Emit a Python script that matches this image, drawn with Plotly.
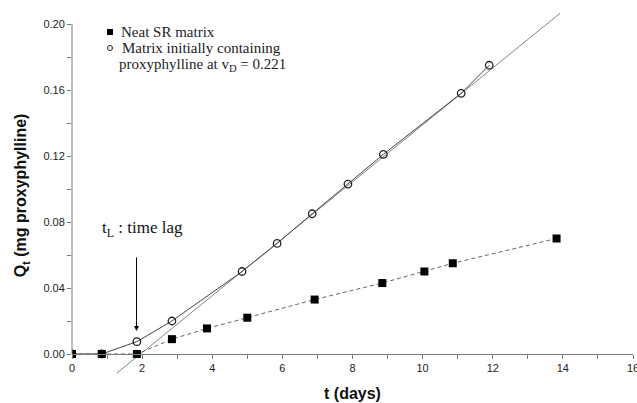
import plotly.graph_objects as go

# ---- data ----
t_neat = [0, 0.85, 1.85, 2.85, 3.85, 5.0, 6.92, 8.85, 10.05, 10.86, 13.82]
q_neat = [0, 0, 0, 0.009, 0.0155, 0.022, 0.033, 0.043, 0.050, 0.055, 0.070]

t_loaded = [0, 0.85, 1.85, 2.85, 4.85, 5.85, 6.85, 7.87, 8.88, 11.1, 11.9]
q_loaded = [0, 0, 0.0075, 0.020, 0.050, 0.067, 0.085, 0.103, 0.121, 0.158, 0.175]

# steady-state tangent (time lag construction)
t_lag = 1.95
flux = 0.01725
tangent_span = [1.28, 13.93]

x_tickvals = list(range(0, 17))
x_ticktext = [str(v) if v % 2 == 0 else " " for v in x_tickvals]
y_tickvals = [i * 0.02 for i in range(11)]
y_ticktext = [f"{v:.2f}" if i % 2 == 0 else " " for i, v in enumerate(y_tickvals)]

legend_neat = "Neat SR matrix"
legend_loaded = ["Matrix initially containing",
                 "proxyphylline at v<sub>D</sub> = 0.221"]

# ---- layout geometry ----
W, H = 637, 403
ml, mr, mt, mb = 72, 4, 13, 25
zero_px = 354
ppu = 1650.0
plot_w = W - ml - mr
plot_h = H - mt - mb
bottom_px = H - mb
y_lo = -(bottom_px - zero_px) / ppu
y_hi = (zero_px - mt) / ppu
xaxis_pos = (bottom_px - zero_px) / plot_h


def px(x):
    return (x - ml) / plot_w


def py(y):
    return (bottom_px - y) / plot_h


font_sans = "Liberation Sans, Arial, sans-serif"
font_serif = "Liberation Serif, Times New Roman, serif"
axis_grey = "#7a7a7a"

fig = go.Figure()

# tangent line
tx = tangent_span
ty = [flux * (v - t_lag) for v in tx]
fig.add_trace(go.Scatter(x=tx, y=ty, mode="lines",
                         line=dict(color="#858585", width=1),
                         showlegend=False, hoverinfo="skip"))

# connecting lines
fig.add_trace(go.Scatter(x=t_neat, y=q_neat, mode="lines",
                         line=dict(color="#666666", width=1, dash="4px,3px"),
                         showlegend=False, hoverinfo="skip"))
fig.add_trace(go.Scatter(x=t_loaded, y=q_loaded, mode="lines",
                         line=dict(color="#444444", width=1),
                         showlegend=False, hoverinfo="skip"))

# markers (circles first so squares sit on top)
fig.add_trace(go.Scatter(x=t_loaded, y=q_loaded, mode="markers",
                         name="loaded", showlegend=False,
                         marker=dict(symbol="circle-open", size=7.5, color="#222222",
                                     line=dict(width=1.3))))
fig.add_trace(go.Scatter(x=t_neat, y=q_neat, mode="markers",
                         name="neat", showlegend=False,
                         marker=dict(symbol="square", size=8, color="black")))

fig.add_annotation(x=1.84, y=0.014, ax=0, ay=-75, xref="x", yref="y",
                   showarrow=True, arrowhead=2,
                   arrowsize=1, arrowwidth=1, arrowcolor="black", text="")
fig.add_annotation(x=2.02, y=0.076, xref="x", yref="y", showarrow=False,
                   text="t<sub>L</sub> : time lag",
                   font=dict(family=font_serif, size=17, color="#111111"))

# legend (drawn manually for tight spacing)
fig.add_shape(type="rect", xref="paper", yref="paper",
              x0=px(107), x1=px(113), y0=py(35), y1=py(29),
              fillcolor="black", line=dict(width=0))
fig.add_shape(type="circle", xref="paper", yref="paper",
              x0=px(107.5), x1=px(112.5), y0=py(50.5), y1=py(45.5),
              fillcolor="rgba(0,0,0,0)", line=dict(color="#222222", width=1))
fig.add_annotation(x=px(119), y=py(32), xref="paper", yref="paper",
                   xanchor="left", yanchor="middle", showarrow=False,
                   text=legend_neat,
                   font=dict(family=font_serif, size=15, color="#222222"))
fig.add_annotation(x=px(120), y=py(48), xref="paper", yref="paper",
                   xanchor="left", yanchor="middle", showarrow=False,
                   text=legend_loaded[0],
                   font=dict(family=font_serif, size=15, color="#222222"))
fig.add_annotation(x=px(117), y=py(65), xref="paper", yref="paper",
                   xanchor="left", yanchor="middle", showarrow=False,
                   text=legend_loaded[1],
                   font=dict(family=font_serif, size=15, color="#222222"))

# y-axis spine from 0 to 0.20
fig.add_shape(type="line", xref="paper", yref="y", x0=0, x1=0, y0=0, y1=0.20,
              line=dict(color=axis_grey, width=1))

fig.update_layout(
    width=W, height=H,
    margin=dict(l=ml, r=mr, t=mt, b=mb, autoexpand=False),
    paper_bgcolor="white", plot_bgcolor="white",
    showlegend=False,
    xaxis=dict(range=[0, 16], tickmode="array", tickvals=x_tickvals,
               ticktext=x_ticktext, ticks="outside", ticklen=4,
               tickcolor=axis_grey, showline=True, linecolor=axis_grey,
               linewidth=1, showgrid=False, zeroline=False, automargin=False,
               anchor="free", position=xaxis_pos, ticklabeloverflow="allow",
               tickfont=dict(family=font_sans, size=11, color="#222222"),
               title=dict(text="<b>t (days)</b>", standoff=14,
                          font=dict(family=font_sans, size=16, color="#111111"))),
    yaxis=dict(range=[y_lo, y_hi], tickmode="array",
               tickvals=y_tickvals, ticktext=y_ticktext, ticks="outside",
               ticklen=4, tickcolor=axis_grey, automargin=False,
               showline=False, showgrid=False, zeroline=False,
               tickfont=dict(family=font_sans, size=11, color="#222222"),
               title=dict(text="<b>Q<sub>t</sub> (mg proxyphylline)</b>", standoff=12,
                          font=dict(family=font_sans, size=16, color="#111111"))),
)

fig.write_html("out.html", config={"displayModeBar": False},
               post_script="document.body.style.margin='0px';")
